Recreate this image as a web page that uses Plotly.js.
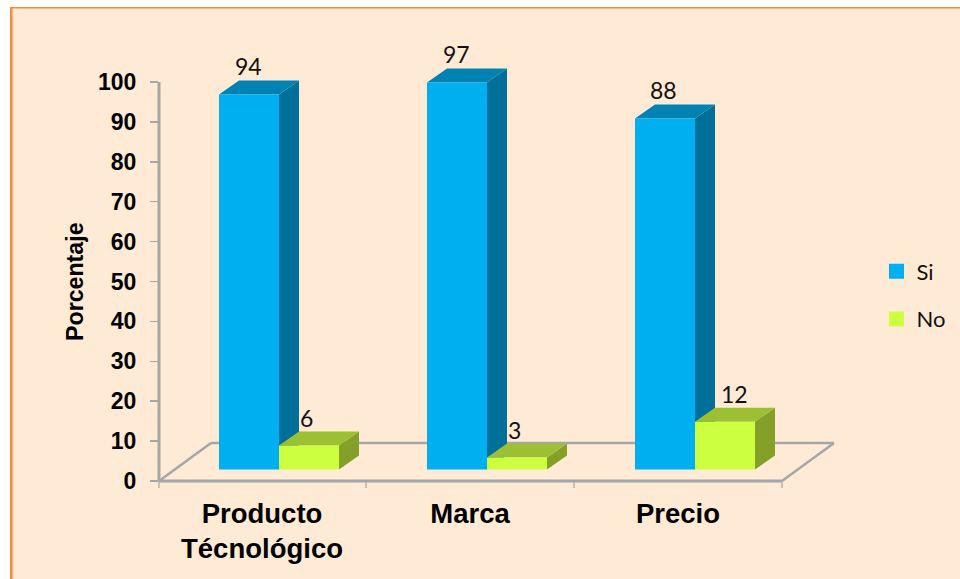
<!DOCTYPE html>
<html>
<head>
<meta charset="utf-8">
<script src="https://cdn.plot.ly/plotly-3.0.1.min.js"></script>
<style>html,body{margin:0;padding:0;background:#fff;overflow:hidden}#chart{width:960px;height:579px}</style>
</head>
<body>
<div id="chart"></div>
<script>
const categories = ['Producto<br>Técnológico', 'Marca', 'Precio'];
const siValues = [94, 97, 88];
const noValues = [6, 3, 12];
const seriesNames = ['Si', 'No'];
const yTicks = [0, 10, 20, 30, 40, 50, 60, 70, 80, 90, 100];
const yTitle = 'Porcentaje';

const W = 960, H = 579;
const mL = 159, mR = 120, mT = 42, mB = 90;
const plotW = W - mL - mR, plotH = H - mT - mB;
const pxX = 208, pxY = 3.99;
const xMin = -0.5, xMax = xMin + plotW / pxX;
const yMin = -2, yMax = yMin + plotH / pxY;
const ux = p => p / pxX, uy = p => p / pxY;
const fx = p => (p - mL) / plotW, fy = p => (H - mB - p) / plotH;

const BASE = uy(11.5);
const DX = ux(20), DY = uy(14);
const BARW = ux(60);
const OFF_SI = ux(-44);
const OFF_NO = ux(16);
const FLOOR_DX = ux(52), FLOOR_DY = uy(38);
const XEND = xMin + ux(623);
const AXIS = '#A6A6A6', BG = '#FEEAD5', ORANGE = '#F58A3C';
const SI = {front: '#00AFEF', side: '#006F9A', top: '#0083B3'};
const NO = {front: '#CCFF40', side: '#84A029', top: '#9DBF33'};
const FONT = '"Liberation Sans", Arial, sans-serif';

function poly(pts, color) {
  return {type: 'path', xref: 'x', yref: 'y', layer: 'below', fillcolor: color,
    line: {width: 0}, path: 'M' + pts.map(p => p[0] + ',' + p[1]).join('L') + 'Z'};
}
function line(x0, y0, x1, y1, w, xref) {
  return {type: 'line', xref: xref || 'x', yref: 'y', layer: 'below', x0, y0, x1, y1,
    line: {color: AXIS, width: w}};
}
function faces(values, off, c) {
  const out = [];
  values.forEach((v, i) => {
    const L = i + off, R = L + BARW, top = BASE + v;
    out.push(poly([[R, BASE], [R + DX, BASE + DY], [R + DX, top + DY], [R, top]], c.side));
    out.push(poly([[L, top], [L + DX, top + DY], [R + DX, top + DY], [R, top]], c.top));
  });
  return out;
}

const shapes = [
  {type: 'rect', xref: 'paper', yref: 'paper', layer: 'below', x0: fx(10), x1: fx(970), y0: fy(7), y1: fy(590), fillcolor: BG, line: {width: 0}},
  {type: 'rect', xref: 'paper', yref: 'paper', layer: 'below', x0: fx(10), x1: fx(12.5), y0: fy(7), y1: fy(590), fillcolor: ORANGE, line: {width: 0}},
  {type: 'rect', xref: 'paper', yref: 'paper', layer: 'below', x0: fx(10), x1: fx(970), y0: fy(7), y1: fy(8.5), fillcolor: ORANGE, line: {width: 0}},
  line(0, 0, 0, 100, 3, 'paper'),
  line(xMin, 0, xMin + FLOOR_DX, FLOOR_DY, 2.5),
  line(xMin + FLOOR_DX, FLOOR_DY, XEND + FLOOR_DX, FLOOR_DY, 2.5),
  line(XEND, 0, XEND + FLOOR_DX, FLOOR_DY, 2.5),
  line(xMin, 0, XEND, 0, 3),
  line(0, 0, 0, uy(-7), 1.2, 'paper'),
  line(xMin + ux(207), 0, xMin + ux(207), uy(-7), 1.2),
  line(xMin + ux(415), 0, xMin + ux(415), uy(-7), 1.2),
  line(XEND, 0, XEND, uy(-7), 1.2),
  ...faces(siValues, OFF_SI, SI),
  ...faces(noValues, OFF_NO, NO)
];

const idx = categories.map((_, i) => i);
function barTrace(name, values, off, c) {
  return {type: 'bar', name, showlegend: false, x: idx, y: values,
    base: values.map(() => BASE), width: BARW, offset: off,
    marker: {color: c.front, line: {width: 0}}, hoverinfo: 'skip'};
}
function legendTrace(name, c) {
  return {type: 'scatter', mode: 'markers', name, legendgroup: name, x: [null], y: [null],
    marker: {symbol: 'square', size: 15, color: c.front}, hoverinfo: 'skip'};
}
const traces = [
  barTrace(seriesNames[0], siValues, OFF_SI, SI),
  barTrace(seriesNames[1], noValues, OFF_NO, NO),
  legendTrace(seriesNames[0], SI),
  legendTrace(seriesNames[1], NO)
];

function labels(values, off, xshifts) {
  return values.map((v, i) => ({
    x: i + off + BARW / 2, y: BASE + v, text: String(v), showarrow: false,
    xanchor: 'center', yanchor: 'middle', xshift: xshifts[i], yshift: 28,
    font: {family: 'Lato, sans-serif', size: 23, color: '#111'}
  }));
}
const annotations = [
  ...labels(siValues, OFF_SI, [-1, -1, -2]),
  ...labels(noValues, OFF_NO, [-3, -3, 9]),
  {xref: 'paper', yref: 'paper', x: fx(75), y: fy(282), text: yTitle, textangle: -90, showarrow: false,
    xanchor: 'center', yanchor: 'middle',
    font: {family: FONT, size: 23.2, color: '#000', weight: 700}}
];

const layout = {
  width: W, height: H,
  margin: {l: mL, r: mR, t: mT, b: mB, pad: 0, autoexpand: false},
  paper_bgcolor: '#FFFFFF', plot_bgcolor: 'rgba(0,0,0,0)',
  font: {family: FONT, color: '#000'},
  barmode: 'overlay', hovermode: false,
  xaxis: {
    type: 'linear', range: [xMin, xMax], tickmode: 'array',
    tickvals: idx.map(i => i - ux(1)), ticktext: categories,
    ticks: '', showgrid: false, zeroline: false, showline: false,
    tickfont: {family: FONT, size: 27.5, color: '#000', weight: 700},
    ticklabelstandoff: 5
  },
  yaxis: {
    range: [yMin, yMax], tickmode: 'array', tickvals: yTicks, ticks: 'outside', ticklen: 8,
    tickcolor: AXIS, tickwidth: 1.5, showgrid: false, zeroline: false, showline: false,
    tickfont: {family: FONT, size: 23, color: '#000', weight: 700},
    ticklabelstandoff: 9
  },
  legend: {
    x: fx(876.5), y: fy(250.5), xanchor: 'left', yanchor: 'top', bgcolor: 'rgba(0,0,0,0)',
    traceorder: 'grouped', tracegroupgap: 16,
    font: {family: 'Lato, sans-serif', size: 22, color: '#111'}
  },
  shapes, annotations
};

Plotly.newPlot('chart', traces, layout, {displayModeBar: false, staticPlot: true});
</script>
</body>
</html>
